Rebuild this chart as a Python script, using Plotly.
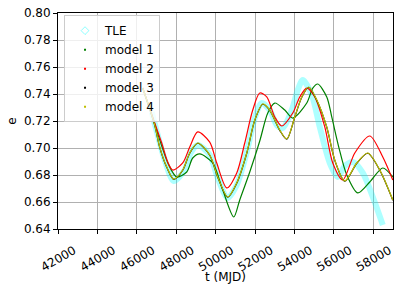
import plotly.graph_objects as go

# ---- data ----
tle_t = [46755, 47061, 47417, 47873, 48431, 48736, 49091, 49700, 50106, 50614,
         51071, 51579, 51985, 52340, 52747, 53102, 53406, 53863, 54167, 54421,
         54878, 55284, 55792, 56197, 56553, 56960, 57467, 57975, 58482]
tle_e = [0.7267, 0.7096, 0.6911, 0.6756, 0.6837, 0.6963, 0.7022, 0.6948, 0.6778, 0.6630,
         0.6726, 0.6970, 0.7222, 0.7333, 0.7281, 0.7170, 0.7148, 0.7281, 0.7430, 0.7504,
         0.7393, 0.7156, 0.6889, 0.6785, 0.6867, 0.6896, 0.6815, 0.6637, 0.6430]

m1_t = [46299, 46908, 47264, 47619, 48025, 48533, 48837, 49193, 49852, 50360,
        50919, 51223, 51731, 52238, 52645, 53000, 53507, 53914, 54624, 54929,
        55182, 55639, 55893, 56248, 56654, 57213, 57822, 58482, 58990]
m1_e = [0.7444, 0.7178, 0.7015, 0.6874, 0.6785, 0.6822, 0.6926, 0.6956, 0.6889, 0.6689,
        0.6489, 0.6615, 0.6822, 0.7052, 0.7259, 0.7333, 0.7281, 0.7222, 0.7333, 0.7444,
        0.7474, 0.7378, 0.7230, 0.7007, 0.6800, 0.6667, 0.6748, 0.6852, 0.6785]

m2_t = [46299, 46908, 47264, 47569, 47823, 48330, 48685, 49091, 49700, 50056,
        50564, 51071, 51477, 51883, 52238, 52594, 53000, 53355, 53914, 54269,
        54624, 55030, 55538, 55944, 56451, 57061, 57822, 58482, 58990]
m2_e = [0.7444, 0.7185, 0.7037, 0.6896, 0.6837, 0.6889, 0.7007, 0.7119, 0.7044, 0.6889,
        0.6704, 0.6815, 0.7037, 0.7281, 0.7407, 0.7378, 0.7230, 0.7163, 0.7259, 0.7378,
        0.7444, 0.7378, 0.7156, 0.6889, 0.6763, 0.6963, 0.7089, 0.6933, 0.6763]

m3_t = [46299, 46908, 47162, 47518, 47873, 48330, 48685, 49091, 49700, 50106,
        50614, 51071, 51579, 51985, 52391, 52747, 53254, 53609, 54015, 54370,
        54726, 55132, 55639, 56045, 56553, 57162, 57720, 58330, 58990]
m3_e = [0.7444, 0.7168, 0.7005, 0.6857, 0.6768, 0.6835, 0.6961, 0.7035, 0.6946, 0.6783,
        0.6635, 0.6739, 0.6961, 0.7205, 0.7324, 0.7279, 0.7131, 0.7065, 0.7228, 0.7376,
        0.7450, 0.7354, 0.7154, 0.6909, 0.6754, 0.6887, 0.6961, 0.6835, 0.6613]

m4_t = [46299, 46908, 47162, 47518, 47873, 48330, 48685, 49091, 49700, 50106,
        50614, 51071, 51579, 51985, 52391, 52747, 53254, 53609, 54015, 54370,
        54726, 55132, 55639, 56045, 56553, 57162, 57720, 58330, 58990]
m4_e = [0.7444, 0.7170, 0.7007, 0.6859, 0.6770, 0.6837, 0.6963, 0.7037, 0.6948, 0.6785,
        0.6637, 0.6741, 0.6963, 0.7207, 0.7326, 0.7281, 0.7133, 0.7067, 0.7230, 0.7378,
        0.7452, 0.7356, 0.7156, 0.6911, 0.6756, 0.6889, 0.6963, 0.6837, 0.6615]

x_ticks = [42000, 44000, 46000, 48000, 50000, 52000, 54000, 56000, 58000]
y_ticks = [0.64, 0.66, 0.68, 0.70, 0.72, 0.74, 0.76, 0.78, 0.80]

FONT = "DejaVu Sans"
fig = go.Figure()

# TLE band
fig.add_trace(go.Scatter(x=tle_t, y=tle_e, mode="lines",
                         line=dict(color="rgba(0,255,255,0.32)", width=6, shape="spline", smoothing=0.8),
                         showlegend=False, hoverinfo="skip"))

models = [("model 1", m1_t, m1_e, "#008000"),
          ("model 2", m2_t, m2_e, "#ff0000"),
          ("model 3", m3_t, m3_e, "#000000"),
          ("model 4", m4_t, m4_e, "#bfbf00")]
for name, t, e, c in models:
    fig.add_trace(go.Scatter(x=t, y=e, mode="lines",
                             line=dict(color=c, width=1.2, shape="spline", smoothing=0.8),
                             showlegend=False))

# legend entries
fig.add_trace(go.Scatter(x=[None], y=[None], mode="markers", name="TLE",
                         marker=dict(symbol="diamond-open", size=6, color="rgba(0,255,255,0.45)")))
for name, t, e, c in models:
    fig.add_trace(go.Scatter(x=[None], y=[None], mode="markers", name=name,
                             marker=dict(symbol="square", size=2, color=c)))

axis_common = dict(showline=True, linecolor="black", linewidth=1, mirror=True,
                   showgrid=True, gridcolor="#b0b0b0", gridwidth=0.8,
                   ticks="outside", ticklen=4, tickcolor="black", tickwidth=1,
                   tickfont=dict(family=FONT, size=12, color="black"), zeroline=False)

fig.update_xaxes(range=[42000, 59000], tickvals=x_ticks, ticktext=[str(v) for v in x_ticks],
                 tickangle=-30, ticklabelshift=16, ticklabelstandoff=5,
                 **axis_common)
fig.update_yaxes(range=[0.64, 0.80], tickvals=y_ticks, ticktext=[f"{v:.2f}" for v in y_ticks],
                 title=dict(text="e", font=dict(family=FONT, size=12, color="black"), standoff=4),
                 **axis_common)

# x-axis title
fig.add_annotation(text="t (MJD)", xref="paper", yref="paper", x=0.5, y=-0.222,
                   xanchor="center", yanchor="middle", showarrow=False,
                   font=dict(family=FONT, size=12, color="black"))

fig.update_layout(width=399, height=291, margin=dict(l=58, r=6, t=13, b=62, autoexpand=False),
                  plot_bgcolor="white", paper_bgcolor="white",
                  font=dict(family=FONT, size=12, color="black"),
                  legend=dict(x=0.018, y=0.99, xanchor="left", yanchor="top",
                              bgcolor="rgba(255,255,255,0.8)", bordercolor="#cccccc", borderwidth=1,
                              font=dict(family=FONT, size=12, color="black")))

fig.write_html("out.html", config={"displayModeBar": False},
               post_script="document.body.style.margin='0';")
